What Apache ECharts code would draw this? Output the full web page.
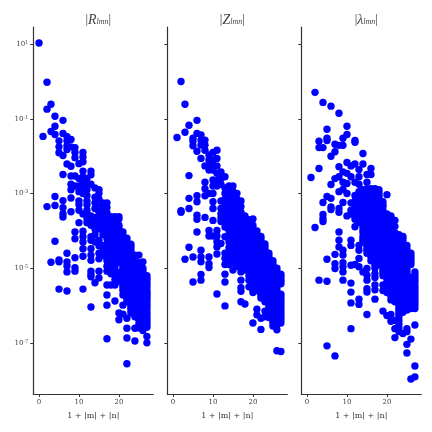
<!DOCTYPE html>
<html><head><meta charset="utf-8">
<script src="https://cdn.jsdelivr.net/npm/echarts@6/dist/echarts.min.js"></script>
<style>html,body{margin:0;padding:0;background:#fff}#c{width:432px;height:432px}</style></head>
<body><div id="c"></div>
<script>
// Each array: index = 1+|m|+|n| value, entries = log10 of the magnitude
const rColumns = [
[1.03],[-1.47],[-0.02,-0.74,-3.35],[-0.61,-1.34,-4.84],[-0.93,-1.2,-1.42,-3.08,-3.32,-4.28],
[-1.59,-1.75,-1.91,-4.78,-4.83,-5.56],[-1.04,-1.39,-1.98,-2.49,-3.19,-3.38,-3.54,-3.63],
[-1.48,-1.59,-1.72,-1.82,-2.21,-4.6,-4.83,-4.94,-5.1,-5.61],[-1.55,-1.75,-2.27,-2.53,-2.75,-2.9,-3.12,-3.49],
[-1.77,-1.9,-2.04,-2.53,-2.8,-4.03,-4.21,-4.72,-4.99,-5.08],[-2.2,-2.6,-2.8,-2.95,-3.2,-3.3,-3.45,-3.78],
[-1.9,-2.02,-2.15,-2.4,-2.55,-2.7,-2.85,-3.0,-3.55,-4.01,-4.16,-4.3,-4.48,-4.68,-5.56],
[-2.6,-2.75,-2.9,-3.05,-3.2,-3.3,-3.45,-3.55,-3.68,-3.78],
[-2.4,-2.5,-2.75,-3.6,-3.7,-3.85,-4.16,-4.25,-4.48,-4.65,-4.79,-5.08,-5.17,-5.23,-6.04],
[-2.85,-3.1,-3.25,-3.4,-3.65,-3.8,-3.95,-4.1,-4.3,-5.39],
[-2.9,-3.0,-3.15,-3.35,-3.5,-3.6,-3.78,-3.95,-4.25,-4.4,-4.6,-4.75,-5.08,-5.26],
[-3.25,-3.4,-3.55,-3.68,-3.82,-3.98,-4.1,-4.39,-4.55,-4.66],
[-3.25,-3.38,-3.52,-3.68,-3.8,-3.95,-4.03,-4.21,-4.35,-4.5,-4.65,-4.8,-4.95,-5.08,-5.45,-5.72,-5.99,-6.89],
[-3.62,-3.7,-3.85,-4.0,-4.2,-4.35,-4.5,-4.65,-4.8,-5.45,-3.75,-3.9,-4.1,-4.28,-4.42,-4.58,-4.72,-4.88,-5.0,-5.15],
[-3.62,-3.68,-3.85,-4.0,-4.15,-4.3,-4.45,-4.6,-4.75,-4.85,-5.0,-5.15,-5.3,-5.45,-5.88,-3.92,-4.08,-4.22,-4.38,-4.52,-4.68,-4.8],
[-3.62,-3.68,-3.85,-4.0,-4.15,-4.3,-4.45,-4.6,-4.75,-4.85,-5.12,-5.25,-5.35,-6.2,-6.38,-3.92,-4.08,-4.22,-4.38,-4.52,-4.68,-4.8],
[-4.03,-4.2,-4.35,-4.5,-4.65,-4.8,-4.95,-5.1,-5.28,-5.45,-5.6,-5.72,-5.99,-6.23,-4.12,-4.28,-4.42,-4.58,-4.72,-4.88,-5.02,-5.18,-5.37,-5.52],
[-4.2,-4.35,-4.5,-4.65,-4.8,-4.95,-5.1,-5.27,-5.45,-5.6,-5.75,-5.9,-6.34,-6.61,-6.87,-7.56,-4.28,-4.42,-4.58,-4.72,-4.88,-5.02,-5.18,-5.37,-5.52,-5.68,-5.82],
[-4.36,-4.5,-4.65,-4.8,-4.95,-5.1,-5.25,-5.45,-5.6,-5.75,-5.9,-6.05,-6.2,-4.42,-4.58,-4.72,-4.88,-5.02,-5.18,-5.35,-5.52,-5.68,-5.82,-5.98,-6.12],
[-4.65,-4.8,-4.95,-5.1,-5.25,-5.4,-5.55,-5.7,-5.85,-6.0,-6.15,-6.3,-6.61,-6.95,-4.72,-4.88,-5.02,-5.18,-5.32,-5.48,-5.62,-5.78,-5.92,-6.08,-6.22],
[-4.65,-4.85,-5.0,-5.15,-5.3,-5.45,-5.6,-5.75,-5.9,-6.05,-6.2,-6.4,-6.6,-4.92,-5.07,-5.22,-5.38,-5.52,-5.68,-5.82,-5.98,-6.12,-6.28,-6.5],
[-4.83,-5.0,-5.15,-5.3,-5.45,-5.6,-5.75,-5.95,-6.1,-6.3,-6.45,-6.55,-6.67,-5.07,-5.22,-5.38,-5.52,-5.68,-6.02,-6.2,-6.38,-6.5],
[-5.2,-5.33,-5.45,-5.6,-5.7,-5.82,-5.95,-6.1,-6.25,-6.38,-6.52,-6.83,-7.0,-5.27,-5.4,-5.52,-5.65,-5.76,-5.88,-6.02,-6.18,-6.32,-6.45,-6.58]
];
const zColumns = [
[],[-1.5],[0.0,-3.46,-3.5],[-0.61,-1.36,-4.76],[-1.17,-2.52,-3.13,-3.4,-4.44],
[-1.52,-1.6,-1.72,-4.7,-5.37],[-1.04,-1.39,-1.87,-3.06,-3.22,-3.58,-3.69,-4.03],
[-1.43,-1.57,-1.7,-2.06,-4.52,-4.7,-4.83,-5.17,-5.32],[-1.57,-1.7,-1.84,-2.26,-2.7,-2.87,-3.06,-3.64],
[-1.97,-2.1,-2.25,-2.37,-3.0,-3.99,-4.14,-4.7,-4.88,-4.98],[-1.9,-2.1,-2.25,-2.37,-2.64,-2.8,-3.0,-3.22,-3.4,-3.72,-4.14],
[-1.84,-2.06,-2.26,-2.46,-2.65,-2.8,-3.99,-4.14,-4.3,-4.43,-4.62,-5.69],
[-2.42,-2.6,-2.75,-3.2,-3.4,-3.55,-3.65,-3.75,-4.34],
[-2.55,-2.85,-3.0,-3.15,-3.3,-3.45,-3.6,-3.75,-3.9,-4.16,-4.6,-4.74,-4.9,-5.16,-5.37,-6.01],
[-2.8,-2.95,-3.1,-3.25,-3.4,-3.55,-3.7,-3.85,-4.0,-4.15,-4.3,-4.45,-4.6,-4.75,-4.9],
[-2.8,-2.95,-3.1,-3.25,-3.4,-3.55,-3.65,-3.8,-3.95,-4.1,-4.25,-4.4,-4.55,-4.7,-4.85,-5.05],
[-3.0,-3.15,-3.3,-3.45,-3.6,-3.75,-3.9,-4.05,-4.2,-4.35,-4.5,-4.65,-4.8,-4.95],
[-3.2,-3.35,-3.5,-3.65,-3.8,-3.95,-4.1,-4.25,-4.4,-4.55,-4.7,-4.85,-5.0,-5.1,-5.32,-5.52,-5.62,-5.9],
[-3.6,-3.75,-3.9,-4.05,-4.2,-4.35,-4.5,-4.65,-4.8,-4.95,-5.05,-5.96],
[-3.7,-3.85,-4.0,-4.15,-4.3,-4.45,-4.6,-4.75,-4.9,-5.05,-5.2,-5.32,-5.5],
[-3.68,-3.85,-4.0,-4.15,-4.3,-4.45,-4.6,-4.75,-4.9,-5.05,-5.2,-5.35,-5.5,-5.65,-6.47,-3.92,-4.08,-4.22,-4.38,-4.52,-4.68,-4.82,-4.98,-5.12,-5.28,-5.42,-5.58],
[-4.0,-4.15,-4.3,-4.45,-4.6,-4.75,-4.9,-5.05,-5.2,-5.35,-5.5,-5.6,-6.1,-6.25,-4.08,-4.22,-4.38,-4.52,-4.68,-4.82,-4.98,-5.12,-5.28,-5.42,-5.55],
[-4.15,-4.3,-4.45,-4.6,-4.75,-4.9,-5.05,-5.2,-5.35,-5.5,-5.67,-5.8,-6.34,-6.64,-4.22,-4.38,-4.52,-4.68,-4.82,-4.98,-5.12,-5.28,-5.42,-5.58,-5.72],
[-4.35,-4.5,-4.65,-4.8,-4.95,-5.1,-5.25,-5.4,-5.55,-5.72,-5.9,-6.15,-6.3,-4.42,-4.58,-4.72,-4.88,-5.02,-5.18,-5.32,-5.48,-5.62,-5.8],
[-4.6,-4.75,-4.9,-5.05,-5.2,-5.35,-5.5,-5.65,-5.8,-5.95,-6.1,-6.2,-6.32,-4.68,-4.82,-4.98,-5.12,-5.28,-5.42,-5.58,-5.72,-5.88,-6.02],
[-4.8,-4.95,-5.1,-5.25,-5.4,-5.55,-5.7,-5.85,-6.0,-6.15,-6.3,-6.45,-6.55,-4.88,-5.02,-5.18,-5.32,-5.48,-5.62,-5.78,-5.92,-6.08,-6.22,-6.38],
[-5.0,-5.15,-5.3,-5.45,-5.6,-5.75,-5.9,-6.05,-6.2,-6.35,-6.5,-6.65,-7.21,-5.08,-5.22,-5.38,-5.52,-5.68,-5.82,-5.98,-6.12,-6.28,-6.42],
[-5.16,-5.3,-5.42,-5.7,-5.85,-6.0,-6.15,-6.3,-6.47,-7.23,-5.23,-5.36,-5.78,-5.92,-6.08,-6.22,-6.38]
];
const lColumns = [
[],[-2.57],[-0.29,-3.91],[-1.6,-1.77,-2.33,-5.32],[-0.56,-1.77,-3.24,-3.56,-3.67,-3.75],
[-1.28,-1.52,-1.58,-3.08,-4.76,-5.35,-7.08],[-0.66,-2.0,-2.76,-3.13,-3.36,-3.43],
[-1.68,-1.88,-2.6,-4.63,-4.88,-5.01,-7.35],[-0.85,-1.71,-2.28,-2.55,-2.95,-3.4,-3.5,-4.03,-4.25,-4.43],
[-1.52,-1.71,-2.42,-2.7,-2.89,-3.24,-4.52,-4.65,-4.85,-4.96,-5.1,-5.32],
[-1.2,-1.42,-2.17,-2.46,-2.73,-3.0,-3.6],[-2.26,-2.55,-3.25,-3.45,-3.55,-4.25,-4.39,-4.92,-5.4,-5.64,-5.93,-6.62],
[-1.58,-1.63,-2.21,-2.7,-3.2,-3.35,-3.5,-3.69,-3.89,-4.9,-3.05,-3.25,-3.42,-3.6],
[-2.36,-2.55,-2.75,-2.95,-3.15,-3.3,-3.45,-3.69,-4.39,-4.52,-4.74,-4.96,-5.83,-5.97,-3.05,-3.25,-3.4,-3.58,-3.78],
[-1.93,-2.21,-3.1,-3.25,-3.53,-3.65,-3.8,-3.89,-4.16,-4.3,-5.1,-2.9,-3.0,-3.18,-3.35,-3.45,-3.6,-3.72,-3.98,-4.05,-4.23],
[-2.49,-2.7,-2.87,-3.05,-3.2,-3.4,-3.6,-4.0,-4.15,-4.3,-4.45,-4.6,-5.01,-5.19,-5.32,-5.55,-5.64,-6.24,-2.95,-3.12,-3.3,-3.5,-3.7,-3.82,-3.92,-4.08,-4.22,-4.38,-4.52],
[-2.33,-2.49,-2.87,-3.05,-3.2,-3.4,-3.65,-4.0,-4.15,-4.3,-4.45,-4.6,-4.8,-2.95,-3.12,-3.3,-3.5,-3.75,-3.85,-3.92,-4.08,-4.22,-4.38,-4.52,-4.7],
[-2.87,-3.05,-3.2,-3.4,-3.6,-3.88,-4.03,-4.18,-4.33,-4.48,-4.63,-4.85,-5.0,-5.15,-5.25,-5.45,-5.58,-5.83,-2.95,-3.12,-3.3,-3.5,-3.7,-3.8,-3.95,-4.1,-4.25,-4.4,-4.55,-4.72,-4.92],
[-2.9,-3.05,-3.2,-3.4,-3.5,-3.82,-4.0,-4.15,-4.3,-4.45,-4.6,-4.8,-2.98,-3.12,-3.3,-3.58,-3.7,-3.9,-4.08,-4.22,-4.38,-4.52,-4.7,-4.9],
[-3.22,-3.35,-3.65,-3.8,-3.95,-4.1,-4.25,-4.4,-4.55,-4.74,-4.9,-5.05,-5.2,-5.45,-5.6,-6.15,-3.3,-3.45,-3.55,-3.72,-3.88,-4.02,-4.18,-4.32,-4.48,-4.62,-4.82,-4.98,-5.12],
[-3.03,-3.55,-3.65,-3.8,-3.95,-4.1,-4.25,-4.4,-4.55,-4.7,-4.85,-5.0,-5.2,-5.4,-5.55,-5.65,-6.27,-3.72,-3.88,-4.02,-4.18,-4.32,-4.48,-4.62,-4.78,-4.92,-5.1,-5.3,-5.48],
[-3.6,-3.65,-3.8,-3.95,-4.1,-4.25,-4.4,-4.55,-4.7,-4.85,-5.1,-5.3,-5.45,-5.6,-5.75,-6.24,-6.42,-3.72,-3.88,-4.02,-4.18,-4.32,-4.48,-4.62,-4.78,-4.95,-5.2,-5.38,-5.52,-5.68,-5.85],
[-3.72,-4.05,-4.2,-4.35,-4.5,-4.65,-4.8,-5.05,-5.2,-5.35,-5.5,-5.65,-5.8,-6.4,-6.62,-6.86,-3.88,-4.12,-4.28,-4.42,-4.58,-4.72,-4.9,-5.12,-5.28,-5.42,-5.58,-5.72,-5.9],
[-4.1,-4.25,-4.4,-4.55,-4.7,-4.9,-5.1,-5.3,-5.5,-5.65,-5.85,-6.0,-6.15,-6.3,-6.5,-6.7,-4.18,-4.32,-4.48,-4.62,-4.8,-5.0,-5.2,-5.4,-5.58,-5.75,-5.92,-6.08,-6.22,-6.4,-6.6],
[-4.15,-4.3,-4.45,-4.6,-4.75,-4.9,-5.05,-5.2,-5.35,-5.5,-5.65,-5.8,-5.95,-6.1,-6.75,-4.22,-4.38,-4.52,-4.68,-4.82,-4.98,-5.12,-5.28,-5.42,-5.58,-5.72,-5.88,-6.02,-6.18],
[-4.39,-4.55,-4.7,-4.85,-5.0,-5.15,-5.3,-5.45,-5.6,-5.75,-5.9,-6.05,-6.62,-6.7,-7.04,-7.27,-4.48,-4.62,-4.78,-4.92,-5.08,-5.22,-5.38,-5.52,-5.68,-5.82,-5.98,-6.12],
[-4.6,-4.75,-4.9,-5.25,-5.4,-5.55,-5.7,-5.85,-6.0,-6.9,-7.97,-4.68,-4.82,-5.3,-5.48,-5.62,-5.78,-5.92,-6.08],
[-5.1,-5.25,-5.4,-5.55,-5.7,-5.85,-6.0,-6.52,-7.62,-7.91,-5.18,-5.32,-5.48,-5.62,-5.78,-5.92,-6.08]
];
const xTicks = [0, 10, 20];
const yTicks = [10, 0.1, 1e-3, 1e-5, 1e-7];
const titles = ['{i|R}{s|lmn}', '{i|Z}{s|lmn}', '{i|λ}{s|lmn}'];
const xName = '1 + |m| + |n|';
const panels = [rColumns, zColumns, lColumns];
const lefts = [33.3, 167.3, 301.3];

const serif = '"DejaVu Serif"';
const gray = '#444';
const chart = echarts.init(document.getElementById('c'), null, {renderer:'canvas'});
chart.setOption({
  animation:false,
  title: titles.map((t,i)=>({
    text:'|'+t+'|', left:lefts[i]+60, top:8, textAlign:'center',
    textStyle:{fontFamily:'"Liberation Serif"',fontSize:13,fontWeight:'normal',color:gray,
      rich:{i:{fontFamily:'"Liberation Serif"',fontStyle:'italic',fontSize:14,color:gray},
            s:{fontFamily:'"Liberation Serif"',fontStyle:'italic',fontSize:8,color:gray,padding:[4,0,0,0]}}}
  })),
  grid: lefts.map(l=>({left:l,top:27,width:120,height:367})),
  xAxis: lefts.map((l,i)=>({
    gridIndex:i,type:'value',min:-1.43,max:28.6,
    name:xName,nameLocation:'middle',nameGap:18,
    nameTextStyle:{fontFamily:serif,fontSize:8,color:'#333'},
    splitLine:{show:false},
    axisLine:{onZero:false,lineStyle:{color:'#333',width:1.2}},
    axisTick:{length:3,customValues:xTicks,lineStyle:{color:'#333',width:1}},
    axisLabel:{customValues:xTicks,margin:5,fontFamily:serif,fontSize:7,color:gray}
  })),
  yAxis: lefts.map((l,i)=>({
    gridIndex:i,type:'log',logBase:10,min:Math.pow(10,-8.37),max:Math.pow(10,1.46),
    splitLine:{show:false},minorTick:{show:false},
    axisLine:{onZero:false,lineStyle:{color:'#333',width:1.2}},
    axisTick:{length:3,customValues:yTicks,lineStyle:{color:'#333',width:1}},
    axisLabel:{show:i===0,customValues:yTicks,margin:5,fontFamily:serif,fontSize:7,color:gray,
      formatter:v=>'10{s|'+Math.round(Math.log10(v))+'}',
      rich:{s:{fontFamily:serif,fontSize:5,color:gray,padding:[0,0,3,0]}}}
  })),
  series: panels.map((cols,i)=>({
    type:'scatter',xAxisIndex:i,yAxisIndex:i,symbolSize:7.4,clip:false,
    itemStyle:{color:'#0000ff',opacity:1},
    data:cols.flatMap((c,x)=>c.map(e=>[x,Math.pow(10,e)]))
  }))
});
</script></body></html>
